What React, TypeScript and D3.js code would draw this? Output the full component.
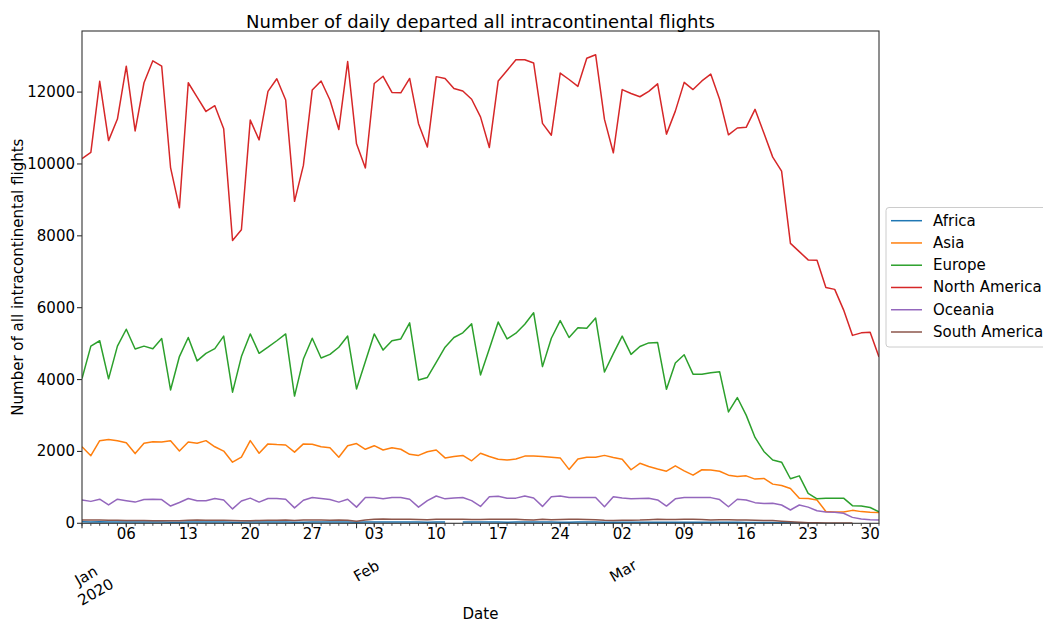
import React from "react";
import * as d3 from "d3";

const START = Date.UTC(2020, 0, 1);
const DAY = 86400000;

const seriesNames = ["Africa", "Asia", "Europe", "North America", "Oceania", "South America"];

const N = null;

const africa: (number | null)[] = [
  40, 38, 42, 35, 36, 38, 34, 33, 35, 36, 32, 30, 34, 36, 35, 34, 33, 28, 30, 34, 35, 36, 34, 33, 28, 32, 35, 36, 34, 33, 35,
  30, 33, 36, 38, 37, 36, 35, 34, 30, 33, 35, N, 34, 36, 35, 34, 33, 30, 35, 36, 35, 34, 33, 30, 32, 35, 34, 33, 30,
  28, 30, 32, 31, 30, 29, 27, 30, 31, 30, 29, 28, 26, 28, 27, 25, 24, 22, 20, 18, 15, 12, N, N, N, N, N, N, N, N, N,
];

const asia: (number | null)[] = [
  2130, 1880, 2300, 2330, 2300, 2240, 1940, 2230, 2270, 2260, 2300, 2010, 2260, 2230, 2300, 2130, 2010, 1700, 1840, 2300,
  1950, 2210, 2190, 2180, 1980, 2210, 2200, 2130, 2100, 1840, 2160, 2220, 2060, 2160, 2040, 2100, 2060, 1920, 1890, 1990,
  2040, 1820, 1860, 1890, 1740, 1950, 1860, 1780, 1760, 1790, 1870, 1870, 1860, 1840, 1820, 1500, 1790, 1840, 1840, 1890,
  1830, 1780, 1490, 1670, 1580, 1510, 1450, 1600, 1460, 1340, 1490, 1480, 1450, 1340, 1300, 1320, 1230, 1250, 1090, 1050,
  970, 700, 690, 650, 330, 315, 315, 360, 325, 305, 300,
];

const europe: (number | null)[] = [
  4030, 4930, 5080, 4020, 4930, 5400, 4850, 4930, 4860, 5140, 3710, 4640, 5170, 4520, 4730, 4860, 5210, 3650, 4640, 5270,
  4730, 4900, 5080, 5270, 3540, 4570, 5150, 4600, 4700, 4900, 5210, 3740, 4500, 5270, 4820, 5080, 5130, 5580, 3990, 4060,
  4480, 4900, 5170, 5300, 5550, 4130, 4860, 5600, 5130, 5290, 5540, 5860, 4360, 5150, 5640, 5170, 5440, 5430, 5710, 4210,
  4720, 5210, 4700, 4920, 5020, 5030, 3730, 4460, 4690, 4150, 4150, 4190, 4220, 3100, 3500, 3010, 2390, 2000, 1760, 1700,
  1240, 1320, 835, 680, 700, 700, 700, 490, 480, 440, 320,
];

const northAmerica: (number | null)[] = [
  10150, 10320, 12300, 10650, 11250, 12720, 10920, 12260, 12870, 12720, 9900, 8780, 12260, 11860, 11460, 11620, 10980, 7870, 8170, 11220,
  10670, 12020, 12370, 11780, 8960, 9960, 12060, 12310, 11780, 10960, 12850, 10560, 9890, 12240, 12440, 11990, 11980, 12380, 11120, 10470,
  12430, 12380, 12100, 12030, 11800, 11310, 10460, 12310, 12600, 12900, 12900, 12810, 11130, 10800, 12530, 12350, 12160, 12940, 13040, 11240,
  10310, 12070, 11960, 11870, 12020, 12230, 10830, 11470, 12270, 12070, 12310, 12500, 11800, 10810, 11000, 11020, 11520, 10860, 10190, 9800,
  7790, 7560, 7330, 7320, 6560, 6510, 5940, 5230, 5300, 5320, 4630,
];

const oceania: (number | null)[] = [
  650, 610, 670, 510, 670, 630, 590, 660, 670, 660, 480, 580, 690, 630, 630, 690, 650, 400, 620, 700,
  590, 690, 690, 670, 430, 640, 720, 690, 660, 590, 670, 450, 715, 715, 680, 720, 720, 670, 450, 630,
  760, 680, 705, 720, 630, 470, 740, 750, 700, 700, 760, 705, 470, 740, 760, 715, 720, 720, 720, 460,
  740, 705, 680, 690, 700, 650, 480, 680, 715, 720, 720, 715, 660, 460, 670, 650, 575, 550, 555, 510,
  370, 510, 450, 350, 315, 305, 280, 165, 120, 100, 90,
];

const southAmerica: (number | null)[] = [
  90, 95, 92, 88, 85, 80, 78, 75, 72, 70, 68, 72, 85, 90, 88, 85, 82, 75, 70, 72, 80, 85, 88, 90, 80, 92, 95, 90, 85, 92, 88,
  60, 95, 115, 118, 112, 110, 115, 108, 100, 110, 112, 115, 110, 105, 108, 110, 112, 115, 110, 100, 95, 112, 100, 105, 115, 110, 105, 100, 85,
  80, 85, 88, 90, 100, 110, 105, 108, 112, 110, 105, 95, 100, 98, 92, 90, 85, 80, 75, 60, 45, 30, 18, 12, 10, 8, 6, 5, N, N, N,
];

const seriesValues = [africa, asia, europe, northAmerica, oceania, southAmerica];
const yTicks = [0, 2000, 4000, 6000, 8000, 10000, 12000];
const monthLabels = [["Jan", "2020"], ["Feb"], ["Mar"]];

const W = 1043;
const H = 624;
const left = 82;
const right = 879;
const top = 31;
const bottom = 523.3;
const FONT = "DejaVu Sans, sans-serif";

export default function App() {
  const dates = d3.range(91).map((i) => new Date(START + i * DAY));
  const x = d3.scaleUtc().domain([dates[0], dates[90]]).range([left, right]);
  const y = d3.scaleLinear().domain([0, 13700]).range([bottom, top]);
  const colors = d3.schemeCategory10;

  const weekly = d3.utcMonday.range(dates[0], new Date(dates[90].getTime() + 1));
  const months = d3.utcMonth.range(dates[0], new Date(dates[90].getTime() + 1));
  const fmtDay = d3.utcFormat("%d");

  const makeLine = (vals: (number | null)[]) =>
    d3
      .line<number | null>()
      .defined((d) => d !== null)
      .x((_, i) => x(dates[i]))
      .y((d) => y(d as number))(vals) || "";

  return (
    <svg
      width={W}
      height={H}
      style={{ position: "absolute", left: 0, top: 0, background: "#fff" }}
      fontFamily={FONT}
    >
      <rect x={0} y={0} width={W} height={H} fill="#fff" />
      <defs>
        <clipPath id="plotclip">
          <rect x={left} y={top} width={right - left} height={bottom - top} />
        </clipPath>
      </defs>
      <g clipPath="url(#plotclip)">
        {seriesValues.map((vals, k) => (
          <path key={k} d={makeLine(vals)} fill="none" stroke={colors[k]} strokeWidth={1.5} strokeLinejoin="round" />
        ))}
      </g>
      <rect x={left} y={top} width={right - left} height={bottom - top} fill="none" stroke="#333" strokeWidth={1.1} />

      {yTicks.map((t) => (
        <g key={t}>
          <line x1={left - 5} x2={left} y1={y(t)} y2={y(t)} stroke="#333" strokeWidth={1.1} />
          <text x={left - 7} y={y(t)} textAnchor="end" dominantBaseline="central" fontSize={15} fill="#000">
            {t}
          </text>
        </g>
      ))}

      {dates.map((d, i) => (
        <line key={i} x1={x(d)} x2={x(d)} y1={bottom} y2={bottom + 2.5} stroke="#333" strokeWidth={0.9} />
      ))}
      {weekly.map((d, i) => (
        <g key={i}>
          <line x1={x(d)} x2={x(d)} y1={bottom} y2={bottom + 4} stroke="#333" strokeWidth={1.1} />
          <text x={x(d)} y={bottom + 16} textAnchor="middle" fontSize={15} fill="#000">
            {fmtDay(d)}
          </text>
        </g>
      ))}
      {months.map((d, i) => {
        const lines = monthLabels[i];
        const cx = x(d) + (lines.length > 1 ? 9 : 10);
        const cy = lines.length > 1 ? 584 : 571;
        return (
          <g key={i} transform={`translate(${cx},${cy}) rotate(-30)`}>
            {lines.map((s, j) => (
              <text
                key={j}
                x={0}
                y={(j - (lines.length - 1) / 2) * 19}
                textAnchor="middle"
                dominantBaseline="central"
                fontSize={15}
                fill="#000"
              >
                {s}
              </text>
            ))}
          </g>
        );
      })}
      {months.map((d, i) => (
        <line key={"m" + i} x1={x(d)} x2={x(d)} y1={bottom} y2={bottom + 5} stroke="#333" strokeWidth={1.1} />
      ))}

      <text x={(left + right) / 2} y={614} textAnchor="middle" dominantBaseline="central" fontSize={15} fill="#000">
        Date
      </text>
      <text
        transform={`translate(18,${(top + bottom) / 2}) rotate(-90)`}
        textAnchor="middle"
        dominantBaseline="central"
        fontSize={15}
        fill="#000"
      >
        Number of all intracontinental flights
      </text>
      <text x={(left + right) / 2} y={21} textAnchor="middle" dominantBaseline="central" fontSize={18} fill="#000">
        Number of daily departed all intracontinental flights
      </text>

      <rect x={886} y={207.5} width={170} height={139.5} rx={3} fill="#fff" fillOpacity={0.8} stroke="#ccc" strokeWidth={1} />
      {seriesNames.map((name, k) => {
        const ly = 220.7 + k * 22.26;
        return (
          <g key={name}>
            <line x1={891} x2={922} y1={ly} y2={ly} stroke={colors[k]} strokeWidth={1.5} />
            <text x={933} y={ly} dominantBaseline="central" fontSize={15} fill="#000">
              {name}
            </text>
          </g>
        );
      })}
    </svg>
  );
}
